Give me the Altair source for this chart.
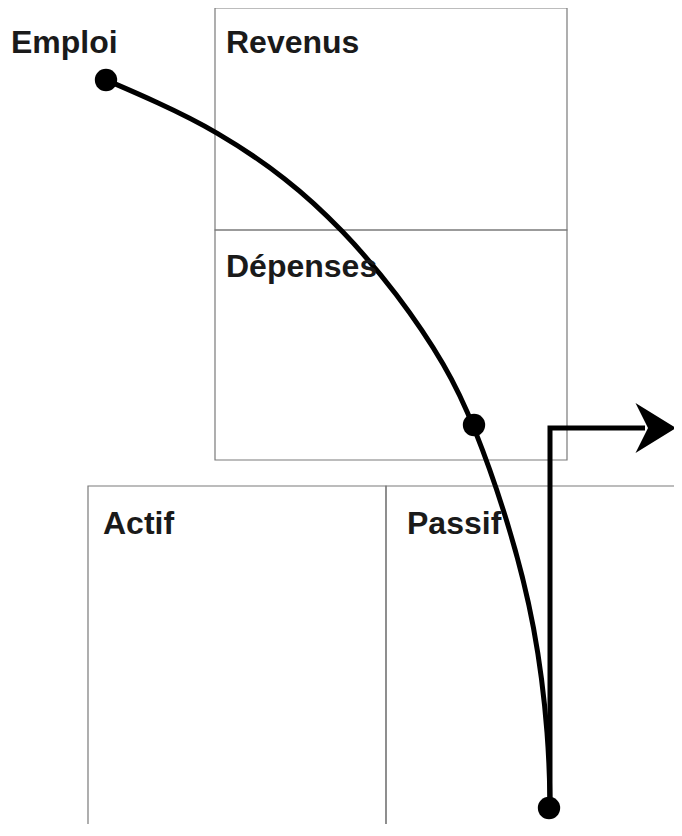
import altair as alt
import pandas as pd

# ---- diagram data (diagram coordinate space: x to the right, y downward) ----
box_names = ["Revenus", "Dépenses", "Actif", "Passif"]
box_x0 = [215, 215, 88, 386]
box_x1 = [567, 567, 386, 700]
box_y0 = [8, 230, 486, 486]
box_y1 = [230, 460, 850, 850]

label_text = ["Emploi", "Revenus", "Dépenses", "Actif", "Passif"]
label_x = [11, 226, 226, 103, 407]
label_y = [53, 53, 277, 534, 534]

curve_x = [106, 157, 215, 287, 343, 397, 447, 474, 508, 536, 549, 550]
curve_y = [80, 102, 130, 178, 230, 293, 367, 425, 520, 627, 740, 808]

dot_x = [106, 474, 549]
dot_y = [80, 425, 808]

arrow_x = [550, 550, 645]
arrow_y = [808, 428, 428]

head_x = [651]
head_y = [428]

X_DOM = [8, 674]
Y_DOM = [8, 824]


def xq(field):
    return alt.X(field, type="quantitative", axis=None,
                 scale=alt.Scale(domain=X_DOM, nice=False, zero=False))


def yq(field):
    return alt.Y(field, type="quantitative", axis=None,
                 scale=alt.Scale(domain=Y_DOM, nice=False, zero=False, reverse=True))


boxes = pd.DataFrame({"name": box_names, "x0": box_x0, "x1": box_x1, "y0": box_y0, "y1": box_y1})
labels = pd.DataFrame({"t": label_text, "x": label_x, "y": label_y})
curve = pd.DataFrame({"x": curve_x, "y": curve_y, "o": list(range(len(curve_x)))})
dots = pd.DataFrame({"x": dot_x, "y": dot_y})
arrow = pd.DataFrame({"x": arrow_x, "y": arrow_y, "o": list(range(len(arrow_x)))})
head = pd.DataFrame({"x": head_x, "y": head_y})

rects = alt.Chart(boxes).mark_rect(fill="transparent", stroke="#7a7a7a", strokeWidth=1.2).encode(
    x=xq("x0"), x2="x1", y=yq("y0"), y2="y1"
)

text = alt.Chart(labels).mark_text(
    align="left", baseline="alphabetic", font="Liberation Sans", fontWeight="bold",
    fontSize=32, color="#1a1a1a"
).encode(x=xq("x"), y=yq("y"), text="t:N")

curve_line = alt.Chart(curve).mark_line(
    color="black", strokeWidth=5, interpolate="basis", strokeCap="round"
).encode(x=xq("x"), y=yq("y"), order="o:Q")

arrow_line = alt.Chart(arrow).mark_line(
    color="black", strokeWidth=5, strokeJoin="miter", strokeCap="butt"
).encode(x=xq("x"), y=yq("y"), order="o:Q")

arrow_head = alt.Chart(head).mark_point(
    shape="M1,0 L-0.62,-1 L-0.12,0 L-0.62,1 Z", size=2500, filled=True,
    color="black", opacity=1, strokeWidth=0
).encode(x=xq("x"), y=yq("y"))

dot_marks = alt.Chart(dots).mark_circle(size=500, color="black", opacity=1).encode(
    x=xq("x"), y=yq("y")
)

chart = alt.layer(rects, curve_line, arrow_line, arrow_head, dot_marks, text).properties(
    width=666, height=816, padding=0, autosize=alt.AutoSizeParams(type="none"),
    background="white"
).configure_view(stroke=None)

chart.save("out.html", embed_options={"renderer": "svg", "actions": False})
